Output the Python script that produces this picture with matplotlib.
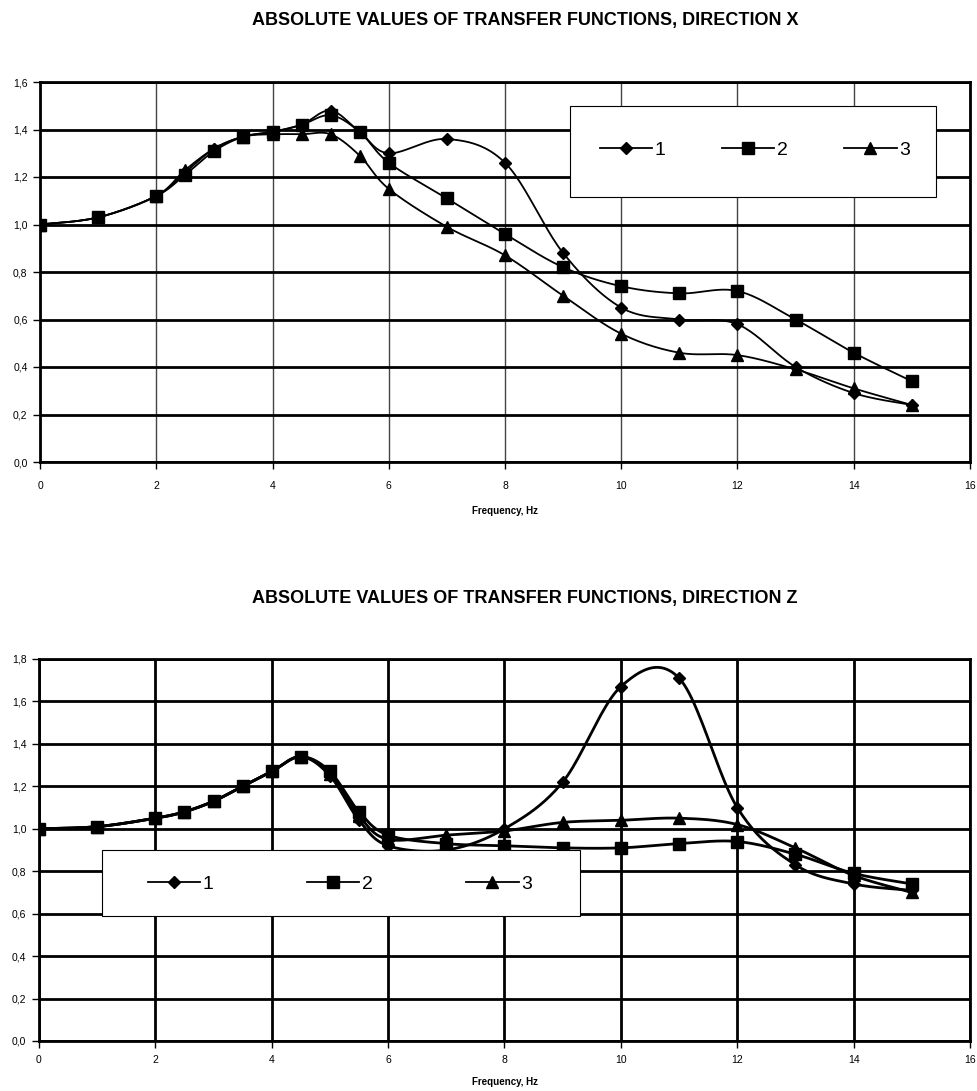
import numpy as np
import matplotlib
matplotlib.use("Agg")
import matplotlib.pyplot as plt
from matplotlib.lines import Line2D
from matplotlib.patches import Rectangle

plt.rcParams['font.family'] = ['Liberation Sans', 'DejaVu Sans']

freq = [0, 1, 2, 2.5, 3, 3.5, 4, 4.5, 5, 5.5, 6, 7, 8, 9, 10, 11, 12, 13, 14, 15]

x_s1 = [1.00, 1.03, 1.12, 1.22, 1.32, 1.37, 1.39, 1.42, 1.48, 1.39, 1.30, 1.36, 1.26, 0.88, 0.65, 0.60, 0.58, 0.40, 0.29, 0.24]
x_s2 = [1.00, 1.03, 1.12, 1.21, 1.31, 1.37, 1.39, 1.42, 1.46, 1.39, 1.26, 1.11, 0.96, 0.82, 0.74, 0.71, 0.72, 0.60, 0.46, 0.34]
x_s3 = [1.00, 1.03, 1.12, 1.23, 1.32, 1.37, 1.38, 1.38, 1.38, 1.29, 1.15, 0.99, 0.87, 0.70, 0.54, 0.46, 0.45, 0.39, 0.31, 0.24]

z_s1 = [1.00, 1.01, 1.05, 1.08, 1.13, 1.20, 1.27, 1.34, 1.25, 1.04, 0.92, 0.90, 1.00, 1.22, 1.67, 1.71, 1.10, 0.83, 0.74, 0.71]
z_s2 = [1.00, 1.01, 1.05, 1.08, 1.13, 1.20, 1.27, 1.34, 1.27, 1.08, 0.97, 0.93, 0.92, 0.91, 0.91, 0.93, 0.94, 0.88, 0.79, 0.74]
z_s3 = [1.00, 1.01, 1.05, 1.08, 1.13, 1.20, 1.27, 1.34, 1.26, 1.06, 0.95, 0.97, 0.99, 1.03, 1.04, 1.05, 1.02, 0.91, 0.78, 0.70]

series_labels = ['1', '2', '3']
markers = ['D', 's', '^']
marker_sizes = [6.5, 8.5, 8]

title_x = 'ABSOLUTE VALUES OF TRANSFER FUNCTIONS, DIRECTION X'
title_z = 'ABSOLUTE VALUES OF TRANSFER FUNCTIONS, DIRECTION Z'
xlabel = 'Frequency, Hz'

x_ticks = list(range(0, 17, 2))


def smooth_curve(ax, xs, ys, n=24):
    """Excel-style smoothed line (Catmull-Rom Bezier) computed in display space."""
    pts = ax.transData.transform(np.column_stack([xs, ys]))
    P = np.vstack([pts[0], pts, pts[-1]])
    t = np.linspace(0, 1, n)[:, None]
    out = []
    for i in range(len(pts) - 1):
        p0, p1, p2, p3 = P[i], P[i + 1], P[i + 2], P[i + 3]
        c1 = p1 + (p2 - p0) / 6.0
        c2 = p2 - (p3 - p1) / 6.0
        seg = ((1 - t) ** 3) * p1 + 3 * ((1 - t) ** 2) * t * c1 + 3 * (1 - t) * t ** 2 * c2 + t ** 3 * p2
        out.append(seg if i == 0 else seg[1:])
    curve = np.vstack(out)
    return ax.transData.inverted().transform(curve)


def comma(v):
    return ('%.1f' % v).replace('.', ',')


fig = plt.figure(figsize=(9.78, 10.91), dpi=100)

ax1 = fig.add_axes([40 / 978, (1091 - 462) / 1091, 930 / 978, 380 / 1091])
ax2 = fig.add_axes([39 / 978, (1091 - 1041) / 1091, 931 / 978, 382 / 1091])


def setup(ax, ymax, vgrid_lw, vgrid_color, xpad):
    ax.set_xlim(0, 16)
    ax.set_ylim(0, ymax)
    ax.set_xticks(x_ticks)
    ax.set_xticklabels([str(v) for v in x_ticks])
    yt = np.round(np.arange(0, ymax + 0.001, 0.2), 1)
    ax.set_yticks(yt)
    ax.set_yticklabels([comma(v) for v in yt])
    ax.tick_params(axis='both', direction='out', length=5, width=1, labelsize=7.5, colors='black', pad=4)
    ax.tick_params(axis='x', pad=xpad)
    for sp in ax.spines.values():
        sp.set_linewidth(2)
        sp.set_color('black')
    ax.set_axisbelow(True)
    ax.grid(axis='y', color='black', linewidth=2)
    ax.grid(axis='x', color=vgrid_color, linewidth=vgrid_lw)


setup(ax1, 1.6, 1.0, '#444444', 9)
setup(ax2, 1.8, 2.0, 'black', 5)

fig.canvas.draw()


def draw_series(ax, data, lw):
    handles = []
    for ys, m, ms, lab in zip(data, markers, marker_sizes, series_labels):
        c = smooth_curve(ax, freq, ys)
        ax.plot(c[:, 0], c[:, 1], color='black', linewidth=lw, zorder=3)
        ax.plot(freq, ys, linestyle='none', marker=m, markersize=ms, color='black', zorder=4)
        handles.append(Line2D([], [], color='black', linewidth=1.3, marker=m, markersize=ms))
    return handles


h1 = draw_series(ax1, [x_s1, x_s2, x_s3], 1.3)
h2 = draw_series(ax2, [z_s1, z_s2, z_s3], 2.0)


def legend_box(ax, handles, x0, y0, w, h, hx, hy, colsp):
    ax.add_patch(Rectangle((x0, y0), w, h, transform=ax.transAxes, facecolor='white',
                           edgecolor='black', linewidth=0.8, zorder=9, clip_on=False))
    leg = ax.legend(handles=handles, labels=series_labels, ncol=3, loc='center left',
                    bbox_to_anchor=(hx, hy), frameon=False, fontsize=14, handlelength=2.68,
                    handletextpad=0.15, columnspacing=colsp, borderpad=0, borderaxespad=0)
    leg.set_zorder(10)
    return leg


legend_box(ax1, h1, 0.570, 0.697, 0.393, 0.24, 0.602, 0.821, 2.9)
legend_box(ax2, h2, 0.0677, 0.327, 0.513, 0.173, 0.117, 0.411, 4.8)

fig.text(525 / 978, 1 - 20 / 1091, title_x, ha='center', va='center', fontsize=13, fontweight='bold')
fig.text(525 / 978, 1 - 599 / 1091, title_z, ha='center', va='center', fontsize=13, fontweight='bold')
fig.text(505 / 978, 1 - 511 / 1091, xlabel, ha='center', va='center', fontsize=7, fontweight='bold')
fig.text(505 / 978, 1 - 1082 / 1091, xlabel, ha='center', va='center', fontsize=7, fontweight='bold')

fig.savefig('out.png', dpi=100, facecolor='white')
